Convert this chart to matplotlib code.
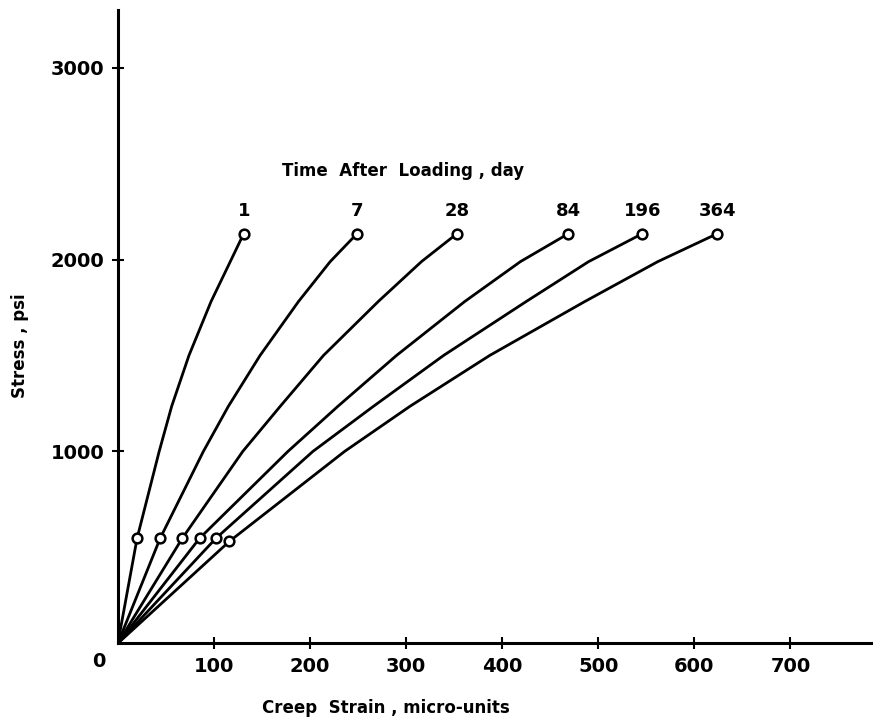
import matplotlib
matplotlib.use("Agg")
import matplotlib.pyplot as plt

# creep strain (micro-units) vs stress (psi)
days = ["1", "7", "28", "84", "196", "364"]
stress = [0, 547, 1000, 1235, 1500, 1781, 1989, 2135]
strain_1 = [0, 20, 43, 56, 74, 97, 117, 131]
strain_7 = [0, 44, 89, 115, 148, 188, 221, 249]
strain_28 = [0, 67, 130, 169, 214, 271, 316, 353]
strain_84 = [0, 85, 177, 229, 290, 361, 419, 469]
strain_196 = [0, 102, 203, 266, 339, 425, 490, 546]
strain_364 = [0, 116, 236, 304, 387, 486, 562, 624]
stress_364 = [0, 531, 1000, 1235, 1500, 1781, 1989, 2135]

curves = [
    (strain_1, stress),
    (strain_7, stress),
    (strain_28, stress),
    (strain_84, stress),
    (strain_196, stress),
    (strain_364, stress_364),
]

x_ticks = [100, 200, 300, 400, 500, 600, 700]
y_ticks = [1000, 2000, 3000]

plt.rcParams['font.family'] = ['DejaVu Sans']
plt.rcParams['font.weight'] = 'bold'

fig = plt.figure(figsize=(8.73, 7.18), dpi=100)
ax = fig.add_axes([0.135, 0.104, 0.865, 0.882])

for (xs, ys), d in zip(curves, days):
    ax.plot(xs, ys, color='black', lw=2.0, solid_joinstyle='round',
            solid_capstyle='round', zorder=2)
    # open circles at the two measured load levels
    ax.plot([xs[1], xs[-1]], [ys[1], ys[-1]], 'o', ms=7, mfc='white',
            mec='black', mew=1.8, zorder=3)
    ax.text(xs[-1], ys[-1] + 70, d, ha='center', va='bottom', fontsize=13)

ax.text(297, 2460, "Time  After  Loading , day", ha='center', va='center',
        fontsize=12)

ax.set_xlim(0, 786)
ax.set_ylim(0, 3300)
ax.set_xticks(x_ticks)
ax.set_yticks(y_ticks)
ax.tick_params(direction='inout', length=9, width=1.5, labelsize=14, pad=5)
for lab in ax.get_xticklabels() + ax.get_yticklabels():
    lab.set_fontweight('bold')
ax.text(-20, -95, "0", ha='center', va='center', fontsize=14)

for side in ['top', 'right']:
    ax.spines[side].set_visible(False)
for side in ['left', 'bottom']:
    ax.spines[side].set_linewidth(2.2)

ax.set_xlabel("Creep  Strain , micro-units", fontsize=12, fontweight='bold')
ax.xaxis.set_label_coords(0.355, -0.088)
ax.set_ylabel("Stress , psi", fontsize=12, fontweight='bold')
ax.yaxis.set_label_coords(-0.118, 0.47)

fig.savefig("out.png", dpi=100)
